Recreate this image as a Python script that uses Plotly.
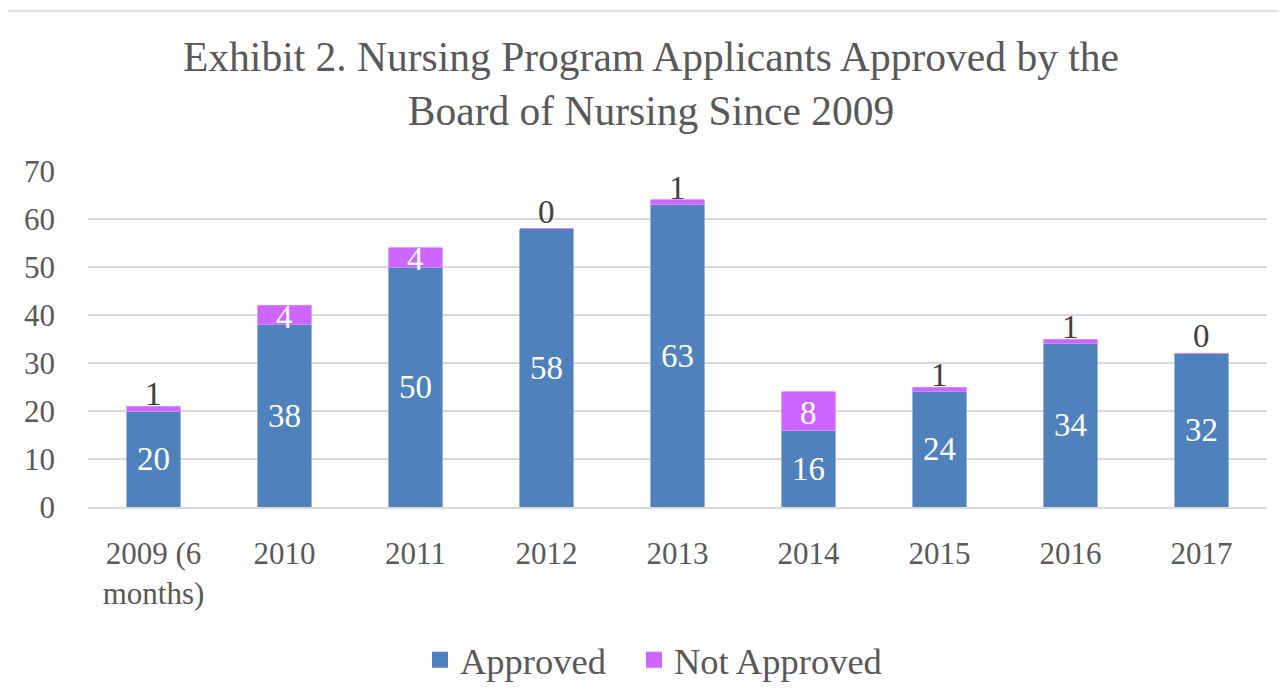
import plotly.graph_objects as go

categories = ["2009 (6<br>months)", "2010", "2011", "2012", "2013", "2014", "2015", "2016", "2017"]
approved = [20, 38, 50, 58, 63, 16, 24, 34, 32]
not_approved = [1, 4, 4, 0, 1, 8, 1, 1, 0]
y_ticks = [0, 10, 20, 30, 40, 50, 60, 70]

FONT = "Liberation Serif"
GRAY = "#595959"
BLUE = "#4F81BD"
PURPLE = "#CC66FF"

# page is rendered with an 8px body margin
OFF = 8
W, H = 1287 - OFF, 698 - OFF
L, T = 88 - OFF, 171 - OFF
R = W - (1267 - OFF)
B = H - (507 - OFF)
pw, ph = W - L - R, H - T - B

fig = go.Figure()
fig.add_trace(go.Bar(
    x=categories, y=approved, name="Approved", marker_color=BLUE, showlegend=False,
    marker_line=dict(color="#7FA3D1", width=0.8),
    text=[str(v) for v in approved], textposition="inside", insidetextanchor="middle",
    textfont=dict(family=FONT, size=33, color="white"), constraintext="none",
))
fig.add_trace(go.Bar(
    x=categories, y=not_approved, name="Not Approved", marker_color=PURPLE, showlegend=False,
    marker_line=dict(color="#DA8CFF", width=0.8),
))
# legend entries with square swatches, each in its own legend box
for name, col, lg in [("Approved", BLUE, "legend"), ("Not Approved", PURPLE, "legend2")]:
    fig.add_trace(go.Scatter(x=[None], y=[None], mode="markers", name=name, legend=lg,
                             marker=dict(symbol="square", size=25, color=col)))

annotations = []
for i, (a, n) in enumerate(zip(approved, not_approved)):
    if n >= 3:
        annotations.append(dict(x=i, y=a + n / 2, text=str(n), showarrow=False, yanchor="middle",
                                yshift=-2, font=dict(family=FONT, size=33, color="white")))
    else:
        annotations.append(dict(x=i, y=a, text=str(n), showarrow=False, yanchor="bottom", yshift=-3,
                                font=dict(family=FONT, size=33, color="#404040")))

LEG_D = 12
legend_common = dict(orientation="h", xanchor="left", y=-(660 - 507) / ph, yanchor="middle",
                     font=dict(family=FONT, size=36.5, color=GRAY), itemwidth=30,
                     bgcolor="rgba(0,0,0,0)")

fig.update_layout(
    barmode="stack", bargap=0.595,
    width=W, height=H,
    margin=dict(l=L, r=R, t=T, b=B, autoexpand=False),
    paper_bgcolor="white", plot_bgcolor="white",
    font=dict(family=FONT, color=GRAY, size=28),
    title=dict(text="Exhibit 2. Nursing Program Applicants Approved by the<br>Board of Nursing Since 2009",
               x=(651 - OFF) / W, xanchor="center", y=1 - 63 / H, yanchor="top",
               font=dict(family=FONT, size=41.5, color=GRAY)),
    legend=dict(x=(432 - LEG_D - 88) / pw, **legend_common),
    legend2=dict(x=(646 - LEG_D - 88) / pw, **legend_common),
    showlegend=True,
    annotations=annotations,
    shapes=[dict(type="rect", xref="paper", yref="paper",
                 x0=(6 - 88) / pw, x1=(1300 - 88) / pw,
                 y0=-(720 - 507) / ph, y1=(507 - 11) / ph,
                 line=dict(color="#D9D9D9", width=1.5), fillcolor="rgba(0,0,0,0)", layer="below")],
)
fig.update_yaxes(range=[0, 70], tickvals=y_ticks, showgrid=True, gridcolor="#D9D9D9", gridwidth=1.5,
                 zeroline=False, showline=False, ticks="", ticklabelstandoff=32, automargin=False,
                 tickfont=dict(family=FONT, size=31, color=GRAY))
fig.update_xaxes(type="category", range=[-0.5, len(categories) - 0.5], showline=True,
                 linecolor="#D9D9D9", linewidth=1.5, ticks="",
                 ticklabelstandoff=18, automargin=False,
                 tickfont=dict(family=FONT, size=31, color=GRAY))

fig.write_html("out.html")
